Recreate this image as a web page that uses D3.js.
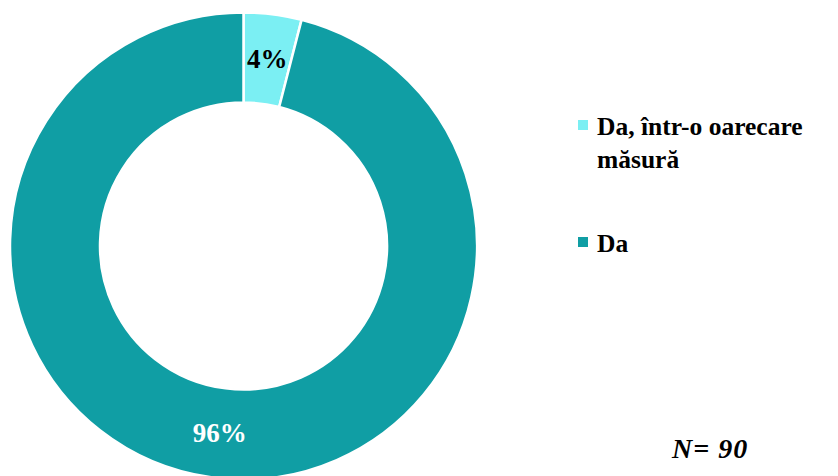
<!DOCTYPE html>
<html>
<head>
<meta charset="utf-8">
<script src="https://cdn.jsdelivr.net/npm/d3@7"></script>
<style>
  body { margin: 0; background: #fff; }
  svg { display: block; }
  text { font-family: "Liberation Serif", Tinos, "Times New Roman", "DejaVu Serif", serif; font-weight: bold; }
</style>
</head>
<body>
<svg id="chart" width="838" height="476"></svg>
<script>
// data
const categories = ["Da, într-o oarecare măsură", "Da"];
const values = [4, 96];
const legendLines = [["Da, într-o oarecare", "măsură"], ["Da"]];
const colors = ["#7BEFF3", "#109EA4"];
const note = "N= 90";

const svg = d3.select("#chart");
const cx = 243.5, cy = 246;
const outerR = 233.5, innerR = 143.5;

const pie = d3.pie().sort(null).value(d => d)(values);
const arc = d3.arc().innerRadius(innerR).outerRadius(outerR);

const g = svg.append("g").attr("transform", `translate(${cx},${cy})`);

g.selectAll("path.slice")
    .data(pie)
    .enter().append("path")
    .attr("class", "slice")
    .attr("d", arc)
    .attr("fill", (d, i) => colors[i])
    .attr("stroke", "#fff")
    .attr("stroke-width", 2.5);

// labels on slices
g.selectAll("text.lbl")
    .data(pie)
    .enter().append("text")
    .attr("class", "lbl")
    .attr("transform", d => `translate(${arc.centroid(d)})`)
    .attr("text-anchor", "middle")
    .attr("dominant-baseline", "central")
    .attr("font-size", "27px")
    .attr("fill", (d, i) => i === 0 ? "#000" : "#fff")
    .text(d => d.data + "%");

// legend
const legendY = [125, 242];
const legend = svg.append("g");
categories.forEach((c, i) => {
    legend.append("rect")
        .attr("x", 578)
        .attr("y", legendY[i] - 5)
        .attr("width", 10)
        .attr("height", 10)
        .attr("fill", colors[i]);
    const t = legend.append("text")
        .attr("x", 597)
        .attr("y", legendY[i] + 10)
        .attr("font-size", "25.5px")
        .attr("fill", "#000");
    legendLines[i].forEach((line, j) => {
        t.append("tspan")
            .attr("x", 597)
            .attr("dy", j === 0 ? 0 : 33)
            .text(line);
    });
});

// N note
svg.append("text")
    .attr("x", 672)
    .attr("y", 458)
    .attr("font-style", "italic")
    .attr("font-size", "28px")
    .attr("letter-spacing", "1px")
    .attr("fill", "#000")
    .text(note);
</script>
</body>
</html>
